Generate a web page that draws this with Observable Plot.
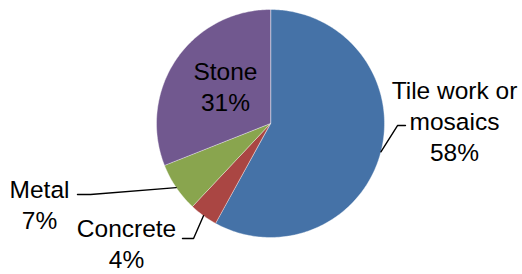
<!DOCTYPE html>
<html>
<head>
<meta charset="utf-8">
<script src="https://cdn.jsdelivr.net/npm/d3@7"></script>
<script src="https://cdn.jsdelivr.net/npm/@observablehq/plot@0.6"></script>
<style>
  html, body { margin: 0; padding: 0; background: #fff; }
  svg { display: block; }
</style>
</head>
<body>
<div id="chart"></div>
<script>
// Data (clockwise from 12 o'clock)
const categories = ["Tile work or mosaics", "Concrete", "Metal", "Stone"];
const values = [58, 4, 7, 31];
const labelTexts = ["Tile work or\nmosaics\n58%", "Concrete\n4%", "Metal\n7%", "Stone\n31%"];
const colors = ["#4572A7", "#AA4643", "#89A54E", "#71588F"];

// Label placement in pie-radius units (layout)
const labelX = [1.614, -1.263, -2.026, -0.395];
const labelY = [0.032, -1.045, -0.704, 0.331];
// leader elbows and ends (null = label inside slice)
const elbowX = [1.114, -0.675, -1.579, null];
const elbowY = [-0.018, -1.009, -0.623, null];
const endX = [1.184, -0.772, -1.693, null];
const endY = [-0.018, -1.009, -0.623, null];

const arcs = d3.pie().sort(null).value(d => d)(values);

// slice polygons
const slicePts = [];
arcs.forEach((a, i) => {
  const n = Math.max(4, Math.ceil((a.endAngle - a.startAngle) / (Math.PI / 180)));
  slicePts.push({name: categories[i], x: 0, y: 0});
  for (let k = 0; k <= n; k++) {
    const t = a.startAngle + (a.endAngle - a.startAngle) * k / n;
    slicePts.push({name: categories[i], x: Math.sin(t), y: Math.cos(t)});
  }
});

// leader lines
const leaderPts = [];
arcs.forEach((a, i) => {
  if (elbowX[i] == null) return;
  const m = (a.startAngle + a.endAngle) / 2;
  leaderPts.push({name: categories[i], x: Math.sin(m), y: Math.cos(m)});
  leaderPts.push({name: categories[i], x: elbowX[i], y: elbowY[i]});
  leaderPts.push({name: categories[i], x: endX[i], y: endY[i]});
});

const labels = categories.map((c, i) => ({name: c, x: labelX[i], y: labelY[i], text: labelTexts[i]}));

const chart = Plot.plot({
  width: 522,
  height: 274,
  margin: 0,
  style: {background: "#fff", fontFamily: "'Liberation Sans', Arial, sans-serif"},
  x: {domain: [-1, 1], range: [156, 384], axis: null},
  y: {domain: [-1, 1], range: [237, 9], axis: null},
  color: {domain: categories, range: colors},
  marks: [
    Plot.line(slicePts, {x: "x", y: "y", z: "name", fill: "name", stroke: "#fff", strokeWidth: 0.4, curve: "linear-closed"}),
    Plot.line(leaderPts, {x: "x", y: "y", z: "name", stroke: "#000", strokeWidth: 1.4}),
    Plot.text(labels, {x: "x", y: "y", text: "text", fontSize: 24.5, lineHeight: 31 / 24.5, textAnchor: "middle", fill: "#000"})
  ]
});
document.getElementById("chart").appendChild(chart);
</script>
</body>
</html>
